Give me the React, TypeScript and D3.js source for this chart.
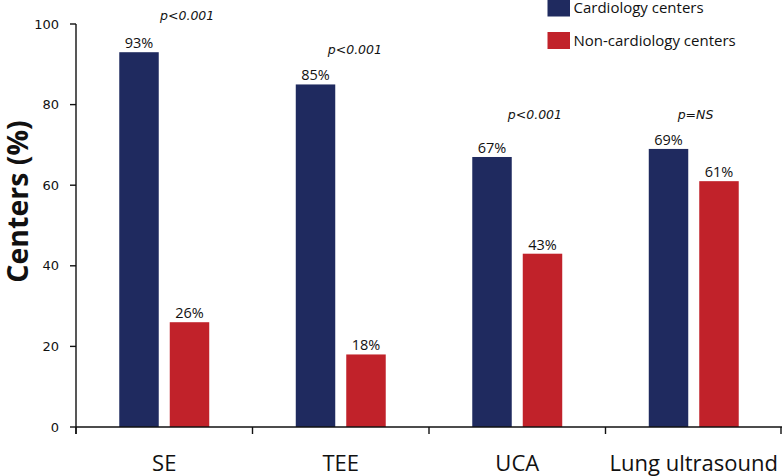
import React from "react";
import * as d3 from "d3";

const categories = ["SE", "TEE", "UCA", "Lung ultrasound"];
const seriesNames = ["Cardiology centers", "Non-cardiology centers"];
const cardiology = [93, 85, 67, 69];
const nonCardiology = [26, 18, 43, 61];
const pLabels = ["p<0.001", "p<0.001", "p<0.001", "p=NS"];
const pLabelLevel = [100.9, 92.6, 76.4, 76.4];
const pLabelBandFrac = [0.63, 0.58, 0.6, 0.51];
const yTicks = [0, 20, 40, 60, 80, 100];
const colors = ["#1f2a5f", "#c1222a"];

const W = 782;
const H = 476;
const left = 76;
const right = 782;
const top = 24;
const bottom = 427;

export default function App() {
  const x = d3.scaleBand<string>().domain(categories).range([left, right]).padding(0);
  const xs = d3
    .scaleBand<string>()
    .domain(seriesNames)
    .range([0, x.bandwidth()])
    .paddingInner(0.218)
    .paddingOuter(0.857);
  const y = d3.scaleLinear().domain([0, 100]).range([bottom, top]);
  const series = [cardiology, nonCardiology];
  const boundaries = [...categories.map((c) => x(c) as number), right - 1];

  return (
    <svg
      width={W}
      height={H}
      style={{ position: "absolute", left: 0, top: 0, background: "#fff" }}
    >
      <rect x={0} y={0} width={W} height={H} fill="#fff" />
      {/* bars */}
      {categories.map((c, i) => (
        <g key={c}>
          {series.map((s, si) => {
            const bx = (x(c) as number) + (xs(seriesNames[si]) as number);
            return (
              <g key={si}>
                <rect
                  x={bx}
                  y={y(s[i])}
                  width={xs.bandwidth()}
                  height={y(0) - y(s[i])}
                  fill={colors[si]}
                />
                <text
                  x={bx + xs.bandwidth() / 2}
                  y={y(s[i]) - 4}
                  textAnchor="middle"
                  fontFamily="'Open Sans', sans-serif"
                  fontSize={14.5}
                  fill="#111"
                >
                  {s[i]}%
                </text>
              </g>
            );
          })}
          <text
            x={(x(c) as number) + x.bandwidth() * pLabelBandFrac[i]}
            y={y(pLabelLevel[i])}
            textAnchor="middle"
            fontFamily="'DejaVu Sans', sans-serif"
            fontStyle="italic"
            fontSize={12.5}
            fill="#111"
          >
            {pLabels[i]}
          </text>
          <text
            x={(x(c) as number) + x.bandwidth() / 2}
            y={471}
            textAnchor="middle"
            fontFamily="'Open Sans', sans-serif"
            fontSize={22}
            fill="#111"
          >
            {c}
          </text>
        </g>
      ))}
      {/* y axis */}
      <line x1={left} x2={left} y1={top} y2={bottom + 7} stroke="#111" strokeWidth={1.4} />
      {yTicks.map((t) => (
        <g key={t}>
          <line x1={left - 6} x2={left} y1={y(t)} y2={y(t)} stroke="#111" strokeWidth={1.4} />
          <text
            x={left - 17}
            y={y(t)}
            dy="0.36em"
            textAnchor="end"
            fontFamily="'DejaVu Sans', sans-serif"
            fontSize={13}
            fill="#111"
          >
            {t}
          </text>
        </g>
      ))}
      {/* x axis */}
      <line x1={left} x2={right} y1={bottom} y2={bottom} stroke="#111" strokeWidth={1.4} />
      {boundaries.map((b, i) => (
        <line key={i} x1={b} x2={b} y1={bottom} y2={bottom + 7} stroke="#111" strokeWidth={1.4} />
      ))}
      {/* y title */}
      <text
        transform={`translate(28,${201.5}) rotate(-90)`}
        textAnchor="middle"
        fontFamily="'Open Sans', sans-serif"
        fontWeight="bold"
        fontSize={28.5}
        fill="#111"
      >
        Centers (%)
      </text>
      {/* legend */}
      {seriesNames.map((n, i) => (
        <g key={n} transform={`translate(547.5,${-0.5 + i * 32.5})`}>
          <rect x={0} y={0} width={22.5} height={17} fill={colors[i]} />
          <text
            x={26}
            y={13.5}
            fontFamily="'Open Sans', sans-serif"
            fontSize={15}
            fill="#111"
          >
            {n}
          </text>
        </g>
      ))}
    </svg>
  );
}
